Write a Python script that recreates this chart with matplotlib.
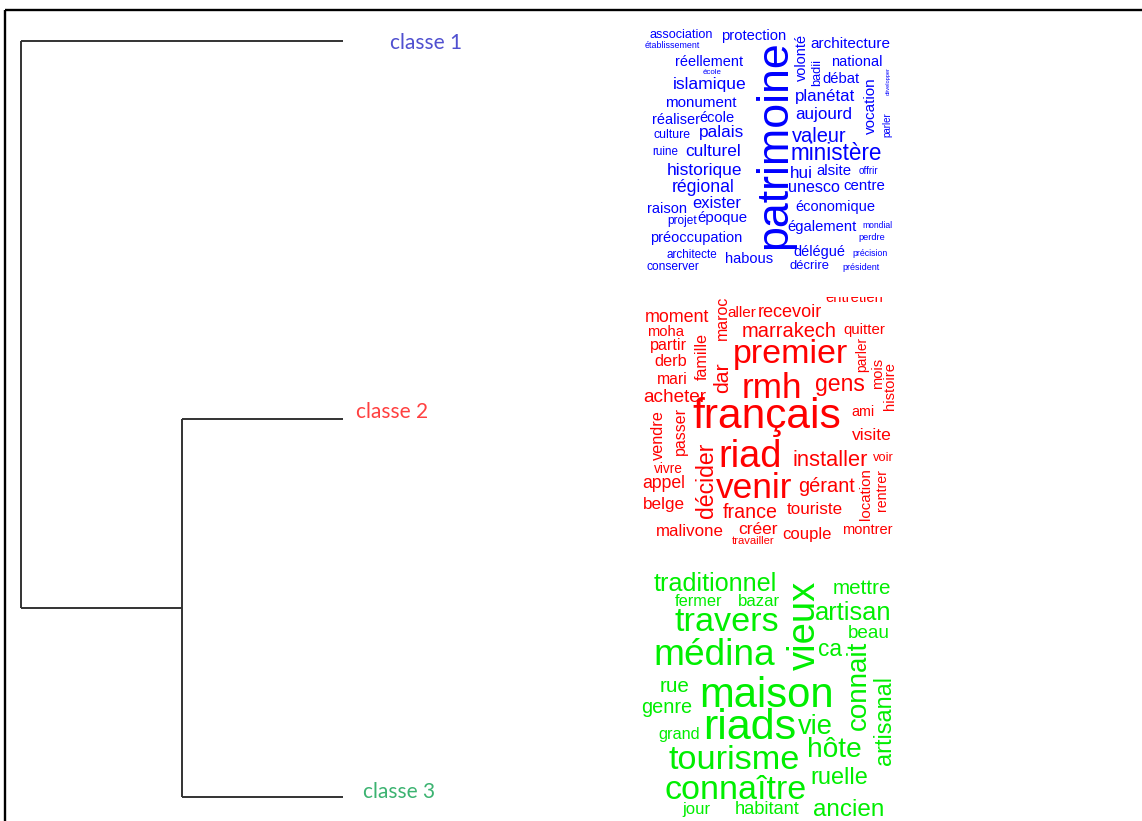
import matplotlib
matplotlib.use('Agg')
import matplotlib.pyplot as plt

W, H = 1142, 821

# dendrogramme : hauteurs de fusion (classe 2 + classe 3, puis + classe 1)
classes = ['classe 1', 'classe 2', 'classe 3']
merge_23 = 0.5
merge_root = 1.0
class_colors = ['#5050d0', '#ff4040', '#3cb371']

# mots des trois classes
words_1 = ['association', 'établissement', 'protection', 'volonté', 'architecture',
           'réellement', 'école', 'badii', 'national', 'débat', 'islamique',
           'patrimoine', 'vocation', 'développer', 'planétat', 'monument',
           'aujourd', 'réaliser', 'école', 'parler', 'culture', 'palais', 'valeur',
           'ruine', 'culturel', 'ministère', 'historique', 'hui', 'alsite', 'offrir',
           'régional', 'unesco', 'centre', 'raison', 'exister', 'économique',
           'projet', 'époque', 'également', 'mondial', 'préoccupation', 'perdre',
           'architecte', 'habous', 'délégué', 'précision', 'conserver', 'décrire',
           'président']
words_2 = ['entretien', 'maroc', 'moment', 'aller', 'recevoir', 'moha', 'marrakech',
           'quitter', 'partir', 'famille', 'premier', 'parler', 'derb', 'dar', 'mois',
           'histoire', 'mari', 'rmh', 'gens', 'acheter', 'français', 'ami', 'vendre',
           'passer', 'visite', 'décider', 'riad', 'installer', 'voir', 'vivre',
           'appel', 'venir', 'gérant', 'location', 'rentrer', 'belge', 'france',
           'touriste', 'malivone', 'créer', 'couple', 'montrer', 'travailler']
words_3 = ['traditionnel', 'fermer', 'bazar', 'vieux', 'mettre', 'travers', 'artisan',
           'beau', 'médina', 'ca', 'connait', 'artisanal', 'rue', 'maison', 'genre',
           'grand', 'riads', 'vie', 'tourisme', 'hôte', 'ruelle', 'connaître', 'jour',
           'habitant', 'ancien']

# placement des nuages (x, y centre en pixels, longueur, rotation)
layout_1 = [(681, 35, 63, 0), (672, 45, 55, 0), (754, 36, 65, 0), (802, 57, 47, 90),
            (850, 44, 80, 0), (709, 62, 68, 0), (712, 72, 19, 0), (817, 72, 27, 90),
            (857, 62, 51, 0), (841, 79, 37, 0), (710, 84, 74, 0), (775, 145, 210, 90),
            (871, 106, 57, 90), (888, 81, 28, 90), (825, 97, 60, 0), (701, 103, 72, 0),
            (824, 114, 57, 0), (676, 120, 48, 0), (717, 118, 35, 0), (887, 125, 25, 90),
            (672, 135, 37, 0), (722, 133, 45, 0), (819, 137, 55, 0), (665, 152, 26, 0),
            (713, 151, 56, 0), (836, 153, 92, 0), (705, 170, 76, 0), (801, 173, 23, 0),
            (834, 171, 35, 0), (868, 171, 20, 0), (703, 187, 63, 0), (814, 187, 52, 0),
            (864, 186, 42, 0), (667, 209, 40, 0), (717, 204, 49, 0), (835, 207, 80, 0),
            (682, 221, 30, 0), (722, 218, 50, 0), (822, 227, 69, 0), (877, 225, 30, 0),
            (696, 238, 92, 0), (872, 238, 27, 0), (692, 255, 51, 0), (749, 259, 48, 0),
            (819, 252, 52, 0), (870, 254, 35, 0), (673, 267, 53, 0), (810, 266, 40, 0),
            (861, 267, 37, 0)]
layout_2 = [(854, 298, 58, 0), (722, 318, 45, 90), (677, 318, 65, 0), (742, 313, 29, 0),
            (790, 313, 65, 0), (666, 332, 37, 0), (789, 332, 95, 0), (864, 330, 42, 0),
            (668, 346, 37, 0), (702, 357, 47, 90), (790, 355, 116, 0), (862, 355, 35, 90),
            (671, 362, 33, 0), (723, 378, 31, 90), (878, 373, 31, 90), (890, 386, 48, 90),
            (672, 380, 31, 0), (772, 388, 61, 0), (840, 385, 50, 0), (675, 397, 64, 0),
            (767, 417, 150, 0), (863, 412, 23, 0), (658, 435, 50, 90), (680, 431, 48, 90),
            (872, 436, 40, 0), (707, 480, 76, 90), (750, 457, 64, 0), (830, 460, 76, 0),
            (883, 458, 21, 0), (668, 469, 29, 0), (664, 483, 43, 0), (754, 489, 77, 0),
            (827, 487, 57, 0), (866, 494, 52, 90), (882, 490, 42, 90), (664, 504, 42, 0),
            (750, 512, 55, 0), (815, 510, 56, 0), (690, 532, 68, 0), (758, 529, 40, 0),
            (807, 535, 49, 0), (867, 530, 51, 0), (753, 541, 43, 0)]
layout_3 = [(715, 584, 124, 0), (699, 601, 48, 0), (759, 601, 42, 0), (805, 625, 90, 90),
            (862, 588, 59, 0), (727, 622, 105, 0), (853, 613, 77, 0), (869, 633, 42, 0),
            (714, 655, 122, 0), (830, 649, 24, 0), (859, 685, 90, 90), (885, 720, 89, 90),
            (675, 686, 30, 0), (767, 696, 135, 0), (667, 707, 51, 0), (679, 734, 42, 0),
            (750, 728, 94, 0), (815, 727, 35, 0), (734, 760, 132, 0), (834, 750, 55, 0),
            (839, 778, 58, 0), (736, 790, 143, 0), (696, 809, 28, 0), (767, 809, 65, 0),
            (849, 810, 72, 0)]

fig = plt.figure(figsize=(W / 100, H / 100), dpi=100)


def px_axes(x0, y0, x1, y1):
    ax = fig.add_axes([x0 / W, 1 - y1 / H, (x1 - x0) / W, (y1 - y0) / H])
    ax.set_xlim(x0, x1)
    ax.set_ylim(y1, y0)
    ax.axis('off')
    return ax


# cadre et étiquettes
ax = px_axes(0, 0, W, H)
ax.plot([5, W + 10], [10, 10], color='black', lw=1.7, solid_capstyle='butt')
ax.plot([5, 5], [10, H + 10], color='black', lw=1.7, solid_capstyle='butt')
label_pos = [(390, 43), (356, 412), (363, 792)]
for name, (x, y), c in zip(classes, label_pos, class_colors):
    ax.text(x, y, name, color=c, fontsize=15, family='Lato', ha='left', va='center')

# dendrogramme
axd = fig.add_axes([21 / W, 1 - 797 / H, 322 / W, 756 / H])
axd.set_xlim(merge_root, 0)
axd.set_ylim(2, 0)
axd.axis('off')
lk = dict(color='#333333', lw=1.4, clip_on=False, solid_capstyle='butt')
axd.plot([0, merge_root], [0, 0], **lk)
axd.plot([0, merge_23], [1, 1], **lk)
axd.plot([0, merge_23], [2, 2], **lk)
axd.plot([merge_23, merge_23], [1, 2], **lk)
axd.plot([merge_23, merge_root], [1.5, 1.5], **lk)
axd.plot([merge_root, merge_root], [0, 1.5], **lk)

# nuages de mots
renderer = fig.canvas.get_renderer()


def draw_cloud(box, words, layout, color):
    axc = px_axes(*box)
    for w, (x, y, span, rot) in zip(words, layout):
        t = axc.text(x, y, w, fontsize=10, rotation=rot, ha='center', va='center',
                     color=color, family='Liberation Sans', clip_on=True)
        bb = t.get_window_extent(renderer)
        size = bb.width if rot == 0 else bb.height
        t.set_fontsize(10 * span / size)


draw_cloud((635, 25, 905, 285), words_1, layout_1, '#0000ff')
draw_cloud((635, 297, 905, 552), words_2, layout_2, '#ff0000')
draw_cloud((635, 565, 905, 821), words_3, layout_3, '#00ee00')

fig.savefig('out.png', dpi=100)
